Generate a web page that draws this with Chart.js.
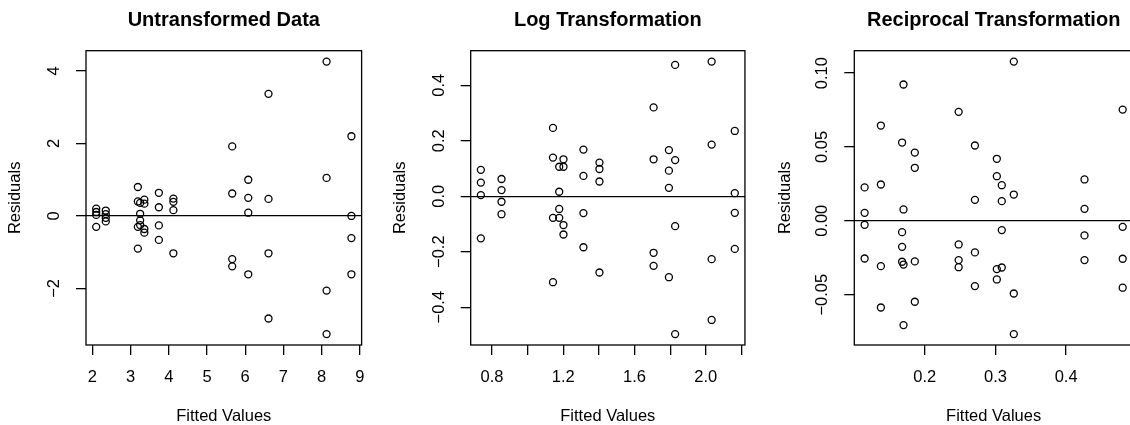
<!DOCTYPE html>
<html>
<head>
<meta charset="utf-8">
<script src="https://cdn.jsdelivr.net/npm/chart.js@4/dist/chart.umd.min.js"></script>
<style>
html,body{margin:0;padding:0;background:#fff;overflow:hidden;width:1130px;height:425px;}
canvas{position:absolute;top:0;}
</style>
</head>
<body>
<canvas id="c1" width="377" height="425" style="left:0px"></canvas>
<canvas id="c2" width="377" height="425" style="left:377px"></canvas>
<canvas id="c3" width="390" height="425" style="left:754px"></canvas>
<script>
// ---- Panel 1: Untransformed Data ----
const untransFitted = [2.10,2.10,2.10,2.10, 2.35,2.35,2.35,2.35, 3.19,3.19,3.19,3.19, 3.25,3.25,3.25,3.25,
  3.36,3.36,3.36,3.36, 3.74,3.74,3.74,3.74, 4.12,4.12,4.12,4.12, 5.66,5.66,5.66,5.66,
  6.08,6.08,6.08,6.08, 6.61,6.61,6.61,6.61, 8.13,8.13,8.13,8.13, 8.78,8.78,8.78,8.78];
const untransResid = [0.20,0.11,0.03,-0.30, 0.15,0.05,-0.05,-0.15, 0.80,0.40,-0.30,-0.90, 0.36,0.06,-0.12,-0.25,
  0.45,0.34,-0.36,-0.46, 0.64,0.24,-0.26,-0.66, 0.48,0.39,0.16,-1.03, 1.92,0.62,-1.19,-1.39,
  1.00,0.50,0.09,-1.61, 3.37,0.47,-1.03,-2.83, 4.26,1.05,-2.06,-3.26, 2.20,0.00,-0.61,-1.61];
const untransXTicks = [2,3,4,5,6,7,8,9];
const untransXLabels = ['2','3','4','5','6','7','8','9'];
const untransYTicks = [-2,0,2,4];
const untransYLabels = ['\u22122','0','2','4'];

// ---- Panel 2: Log Transformation ----
const logFitted = [0.737,0.737,0.737,0.737, 0.853,0.853,0.853,0.853, 1.142,1.142,1.142,1.142, 1.177,1.177,1.177,1.177,
  1.201,1.201,1.201,1.201, 1.313,1.313,1.313,1.313, 1.403,1.403,1.403,1.403, 1.707,1.707,1.707,1.707,
  1.793,1.793,1.793,1.793, 1.828,1.828,1.828,1.828, 2.033,2.033,2.033,2.033, 2.163,2.163,2.163,2.163];
const logResid = [0.095,0.049,0.004,-0.152, 0.062,0.022,-0.020,-0.065, 0.246,0.139,-0.078,-0.310, 0.106,0.016,-0.046,-0.078,
  0.133,0.106,-0.104,-0.138, 0.168,0.073,-0.061,-0.184, 0.121,0.098,0.053,-0.275, 0.320,0.133,-0.204,-0.251,
  0.166,0.092,0.030,-0.292, 0.473,0.130,-0.108,-0.497, 0.485,0.186,-0.227,-0.446, 0.235,0.011,-0.060,-0.190];
const logXTicks = [0.8,1.0,1.2,1.4,1.6,1.8,2.0,2.2];
const logXLabels = ['0.8','','1.2','','1.6','','2.0',''];
const logYTicks = [-0.4,-0.2,0,0.2,0.4];
const logYLabels = ['\u22120.4','\u22120.2','0.0','0.2','0.4'];

// ---- Panel 3: Reciprocal Transformation ----
const recipFitted = [0.115,0.115,0.115,0.115, 0.138,0.138,0.138,0.138, 0.168,0.168,0.168,0.168, 0.170,0.170,0.170,0.170,
  0.186,0.186,0.186,0.186, 0.248,0.248,0.248,0.248, 0.271,0.271,0.271,0.271, 0.302,0.302,0.302,0.302,
  0.309,0.309,0.309,0.309, 0.326,0.326,0.326,0.326, 0.426,0.426,0.426,0.426, 0.480,0.480,0.480,0.480];
const recipResid = [0.0226,0.0054,-0.0027,-0.0255, 0.0645,0.0246,-0.0307,-0.0587, 0.0530,-0.0077,-0.0176,-0.0277, 0.0923,0.0077,-0.0296,-0.0706,
  0.0462,0.0359,-0.0275,-0.0548, 0.0738,-0.0160,-0.0266,-0.0314, 0.0510,0.0142,-0.0214,-0.0442, 0.0420,0.0302,-0.0327,-0.0397,
  0.0241,0.0133,-0.0063,-0.0316, 0.1078,0.0178,-0.0492,-0.0767, 0.0280,0.0081,-0.0099,-0.0266, 0.0753,-0.0041,-0.0257,-0.0453];
const recipXTicks = [0.2,0.3,0.4];
const recipXLabels = ['0.2','0.3','0.4'];
const recipYTicks = [-0.05,0,0.05,0.10];
const recipYLabels = ['\u22120.05','0.00','0.05','0.10'];

const titles = ['Untransformed Data','Log Transformation','Reciprocal Transformation'];
const xAxisTitle = 'Fitted Values';
const yAxisTitle = 'Residuals';

const FONT = "'Liberation Sans', Arial, Helvetica, sans-serif";

function rRange(arr){ // R default axis extension of 4%
  const mn = Math.min(...arr), mx = Math.max(...arr), d = (mx - mn) * 0.04;
  return [mn - d, mx + d];
}

const boxPlugin = {
  id: 'box',
  afterDraw(chart){
    const {ctx, chartArea:a} = chart;
    ctx.save();
    ctx.strokeStyle = '#000'; ctx.lineWidth = 1.3;
    ctx.strokeRect(a.left, a.top, a.right - a.left, a.bottom - a.top);
    ctx.restore();
  }
};

function makePanel(id, title, fx, ry, xTicks, xLabels, yTicks, yLabels, yAxisWidth, rightPad, yLabelPad, yTitlePad){
  const xr = rRange(fx), yr = rRange(ry);
  const pts = fx.map((v,i)=>({x:v, y:ry[i]}));
  new Chart(document.getElementById(id), {
    type: 'scatter',
    data: { datasets: [{ data: pts, pointStyle:'circle', pointRadius:3.5, pointHoverRadius:3.5,
      borderColor:'#000', backgroundColor:'rgba(0,0,0,0)', borderWidth:1.3 }] },
    options: {
      responsive:false, animation:false, events:[],
      layout:{ padding:{ left:0, right:rightPad, top:0, bottom:0 } },
      plugins:{
        legend:{display:false}, tooltip:{enabled:false},
        title:{ display:true, text:title, fullSize:false, color:'#000',
          font:{family:FONT, size:20, weight:'bold', lineHeight:1.2}, padding:{top:8, bottom:18.7} }
      },
      scales:{
        x:{ type:'linear', min:xr[0], max:xr[1],
          afterBuildTicks: s => { s.ticks = xTicks.map(v=>({value:v})); },
          afterFit: s => { s.height = 80; },
          ticks:{ autoSkip:false, maxRotation:0, minRotation:0, color:'#000', padding:12.5,
            font:{family:FONT, size:16.5}, callback:(v,i)=>xLabels[i] },
          grid:{ display:true, drawOnChartArea:false, drawTicks:true, tickLength:10, color:'#000', tickColor:'#000', lineWidth:1.3 },
          border:{ display:false },
          title:{ display:true, text:xAxisTitle, color:'#000', font:{family:FONT, size:16.5, lineHeight:1.0}, padding:{top:0,bottom:0} }
        },
        y:{ type:'linear', min:yr[0], max:yr[1],
          afterBuildTicks: s => { s.ticks = yTicks.map(v=>({value:v})); },
          afterFit: s => { s.width = yAxisWidth; },
          ticks:{ autoSkip:false, minRotation:90, maxRotation:90, crossAlign:'center', color:'#000', padding:yLabelPad,
            font:{family:FONT, size:16.5}, callback:(v,i)=>yLabels[i] },
          grid:{ display:true, drawOnChartArea:true, drawTicks:true, tickLength:10,
            color: c => (c.tick && Math.abs(c.tick.value) < 1e-12) ? '#000' : 'rgba(0,0,0,0)',
            tickColor:'#000', lineWidth:1.3 },
          border:{ display:false },
          title:{ display:true, text:yAxisTitle, color:'#000', font:{family:FONT, size:16.5}, padding:{top:yTitlePad,bottom:0} }
        }
      }
    },
    plugins:[boxPlugin]
  });
}

makePanel('c1', titles[0], untransFitted, untransResid, untransXTicks, untransXLabels, untransYTicks, untransYLabels, 86, 12, 11.9, 5.4);
makePanel('c2', titles[1], logFitted, logResid, logXTicks, logXLabels, logYTicks, logYLabels, 93.7, 5, 5.25, 13.4);
makePanel('c3', titles[2], recipFitted, recipResid, recipXTicks, recipXLabels, recipYTicks, recipYLabels, 100.3, 11, 0.8, 21.4);
</script>
</body>
</html>
